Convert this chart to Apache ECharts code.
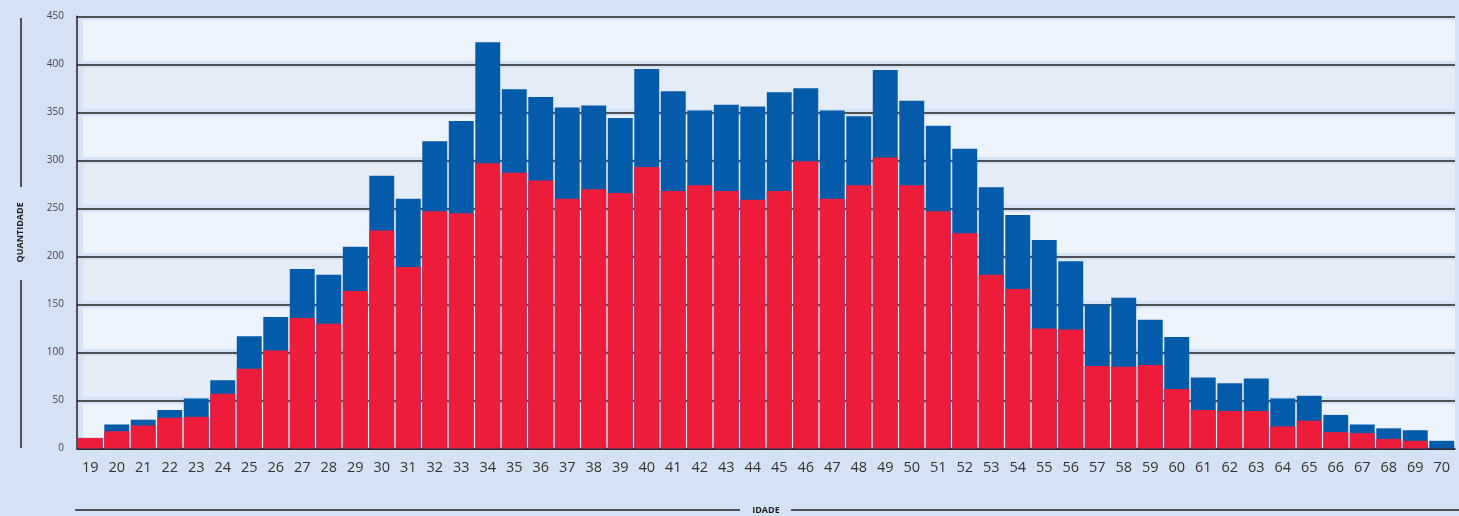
<!DOCTYPE html>
<html>
<head>
<meta charset="utf-8">
<script src="https://cdn.jsdelivr.net/npm/echarts@6/dist/echarts.min.js"></script>
<style>
  html, body { margin: 0; padding: 0; background: #d4e3f3; }
  #chart { width: 1459px; height: 516px; }
</style>
</head>
<body>
<div id="chart"></div>
<script>
// idades 19..70
var idades = [];
for (var a = 19; a <= 70; a++) idades.push(String(a));

// total (barra azul, atrás)
var total = [11, 25, 30, 40, 52, 71, 117, 137, 187, 181, 210, 284, 260, 320, 341, 423, 374, 366, 355, 357,
  344, 395, 372, 352, 358, 356, 371, 375, 352, 346, 394, 362, 336, 312, 272, 243, 217, 195, 150, 157,
  134, 116, 74, 68, 73, 52, 55, 35, 25, 21, 19, 8];

// parte vermelha (na frente)
var vermelho = [11, 18, 24, 32, 33, 57, 83, 102, 136, 130, 164, 227, 189, 247, 245, 297, 287, 279, 260, 270,
  266, 293, 268, 274, 268, 259, 268, 299, 260, 274, 303, 274, 247, 224, 181, 166, 125, 124, 86, 85,
  87, 62, 40, 39, 39, 23, 29, 17, 16, 10, 8, 0];

var fundo = '#d4e3f3';

var myChart = echarts.init(document.getElementById('chart'));

var option = {
  backgroundColor: fundo,
  animation: false,
  grid: { left: 77, right: 4, top: 16.3, bottom: 67.5, outerBoundsMode: 'none', containLabel: false },
  xAxis: {
    type: 'category',
    data: idades,
    axisLine: { lineStyle: { color: '#231f20', width: 1.5 } },
    axisTick: { show: false },
    axisLabel: { fontSize: 14.5, color: '#333', margin: 12, fontFamily: 'Open Sans' },
    name: 'IDADE',
    nameLocation: 'middle',
    nameGap: 57,
    nameTextStyle: { fontSize: 9, fontWeight: 'bold', color: '#231f20', fontFamily: 'Open Sans' }
  },
  yAxis: [
    {
      // faixas claras com margem
      type: 'value', min: 0, max: 450, interval: 50,
      axisLine: { show: true, lineStyle: { color: fundo, width: 12 } },
      axisTick: { show: false },
      axisLabel: { fontSize: 10, color: '#444', margin: 13, fontFamily: 'Open Sans' },
      splitArea: { show: true, areaStyle: { color: ['#ecf3fc', '#e4ecf8'] } },
      splitLine: { show: true, lineStyle: { color: fundo, width: 7 } },
      name: 'QUANTIDADE',
      nameLocation: 'middle',
      nameRotate: 90,
      nameGap: 52,
      nameTextStyle: { fontSize: 9, fontWeight: 'bold', color: '#231f20', fontFamily: 'Open Sans' }
    },
    {
      // linhas pretas
      type: 'value', min: 0, max: 450, interval: 50,
      position: 'left',
      z: 1,
      axisLine: { show: true, lineStyle: { color: '#231f20', width: 1.5 } },
      axisTick: { show: false },
      axisLabel: { show: false },
      splitLine: { show: true, lineStyle: { color: '#231f20', width: 1.5 } }
    }
  ],
  graphic: [
    { type: 'line', shape: { x1: 21, y1: 18, x2: 21, y2: 187 }, style: { stroke: '#231f20', lineWidth: 1.5 } },
    { type: 'line', shape: { x1: 21, y1: 280, x2: 21, y2: 448 }, style: { stroke: '#231f20', lineWidth: 1.5 } },
    { type: 'line', shape: { x1: 75, y1: 510, x2: 740, y2: 510 }, style: { stroke: '#231f20', lineWidth: 1.5 } },
    { type: 'line', shape: { x1: 791, y1: 510, x2: 1459, y2: 510 }, style: { stroke: '#231f20', lineWidth: 1.5 } }
  ],
  series: [
    {
      name: 'Total',
      type: 'bar',
      data: total,
      barCategoryGap: '6%',
      itemStyle: { color: '#035baa' }
    },
    {
      name: 'Vermelho',
      type: 'bar',
      data: vermelho,
      barGap: '-100%',
      itemStyle: { color: '#ee1c3b' }
    }
  ]
};

myChart.setOption(option);
</script>
</body>
</html>
